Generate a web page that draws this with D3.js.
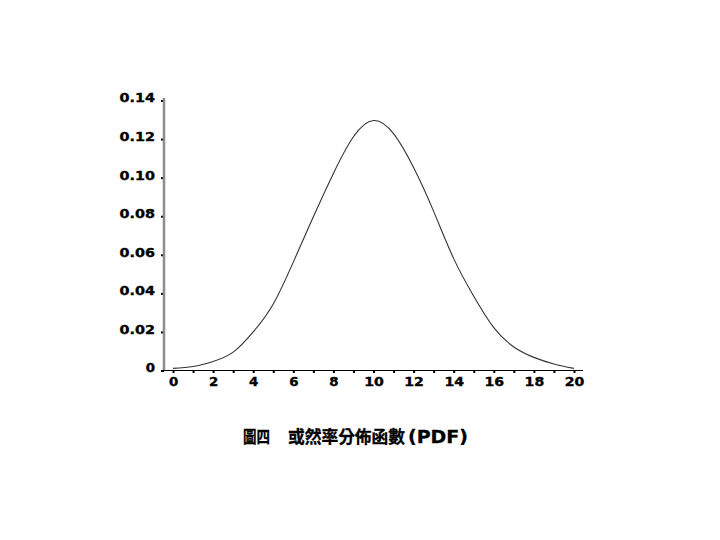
<!DOCTYPE html>
<html>
<head>
<meta charset="utf-8">
<script src="https://cdn.jsdelivr.net/npm/d3@7"></script>
<style>
  html, body { margin: 0; padding: 0; background: #fff; }
  svg text { font-family: "DejaVu Sans", sans-serif; font-weight: bold; }
</style>
</head>
<body>
<svg id="chart" width="720" height="540"></svg>
<script>
// values, one per integer x
var xValues = [0, 1, 2, 3, 4, 5, 6, 7, 8, 9, 10, 11, 12, 13, 14, 15, 16, 17, 18, 19, 20];
var pdfValues = [0.0011, 0.0021, 0.0047, 0.0095, 0.0200, 0.0345, 0.0562, 0.0797, 0.1022, 0.1212,
                 0.1296, 0.1228, 0.1052, 0.0825, 0.0580, 0.0385, 0.0222, 0.0122, 0.0068, 0.0034, 0.0011];
var yTicks = [0, 0.02, 0.04, 0.06, 0.08, 0.10, 0.12, 0.14];
var xTicks = d3.range(0, 21);
var titleParts = ["圖四", "或然率分佈函數", "(PDF)"];

var svg = d3.select("#chart");

var x = d3.scaleLinear().domain([-0.45, 20.45]).range([164, 583]);
var y = d3.scaleLinear().domain([0, 0.14]).range([370.5, 100.5]);

var points = xValues.map(function(d, i) { return { x: d, y: pdfValues[i] }; });

// the reference font is very wide, so stretch each label to its measured width
function labelWidth(s) {
  var w = 0;
  String(s).split("").forEach(function(c) { w += c === "." ? 5.5 : 10.3; });
  return w - 1;
}
function styleLabels(sel) {
  sel.style("font-size", "11.5px")
    .attr("fill", "#000")
    .attr("stroke", "#000")
    .attr("stroke-width", 0.35)
    .attr("lengthAdjust", "spacingAndGlyphs")
    .attr("textLength", function() { var t = d3.select(this).text(); return t ? labelWidth(t) : null; });
}

// y axis
var yAxis = svg.append("g")
    .attr("transform", "translate(164,0)")
    .call(d3.axisLeft(y)
      .tickValues(yTicks)
      .tickSize(3)
      .tickPadding(6)
      .tickFormat(function(d) { return d === 0 ? "0" : d3.format(".2f")(d); }));
yAxis.select(".domain").remove();
yAxis.selectAll(".tick line").attr("stroke", "#000").attr("stroke-width", 2);
yAxis.selectAll(".tick text").attr("dy", "0.12em").call(styleLabels);

svg.append("line")
    .attr("x1", 164).attr("x2", 164)
    .attr("y1", 98).attr("y2", 371)
    .attr("stroke", "#8c8c8c")
    .attr("stroke-width", 2.5);

// x axis
var xAxis = svg.append("g")
    .attr("transform", "translate(0,370.5)")
    .call(d3.axisBottom(x)
      .tickValues(xTicks)
      .tickSize(2.5)
      .tickPadding(5)
      .tickFormat(function(d) { return d % 2 === 0 ? d : ""; }));
xAxis.select(".domain").remove();
xAxis.selectAll(".tick line").attr("stroke", "#000").attr("stroke-width", 2);
xAxis.selectAll(".tick text").call(styleLabels);

svg.append("line")
    .attr("x1", 162).attr("x2", 583)
    .attr("y1", 370.5).attr("y2", 370.5)
    .attr("stroke", "#000")
    .attr("stroke-width", 1);

// curve
var line = d3.line()
    .x(function(d) { return x(d.x); })
    .y(function(d) { return y(d.y); })
    .curve(d3.curveNatural);

svg.append("path")
    .datum(points)
    .attr("d", line)
    .attr("fill", "none")
    .attr("stroke", "#333")
    .attr("stroke-width", 1.1);

// caption
var title = svg.append("text")
    .attr("y", 443)
    .style("font-family", "'Noto Sans CJK TC', sans-serif")
    .style("font-size", "17px")
    .attr("fill", "#000")
    .attr("stroke", "#000")
    .attr("stroke-width", 0.3);
var partX = [243, 288, 408];
var partW = [27, 117, 60];
titleParts.forEach(function(t, i) {
  title.append("tspan")
    .attr("x", partX[i])
    .attr("textLength", partW[i])
    .attr("lengthAdjust", "spacingAndGlyphs")
    .style("font-family", i === 2 ? "'DejaVu Sans', sans-serif" : null)
    .text(t);
});
</script>
</body>
</html>
